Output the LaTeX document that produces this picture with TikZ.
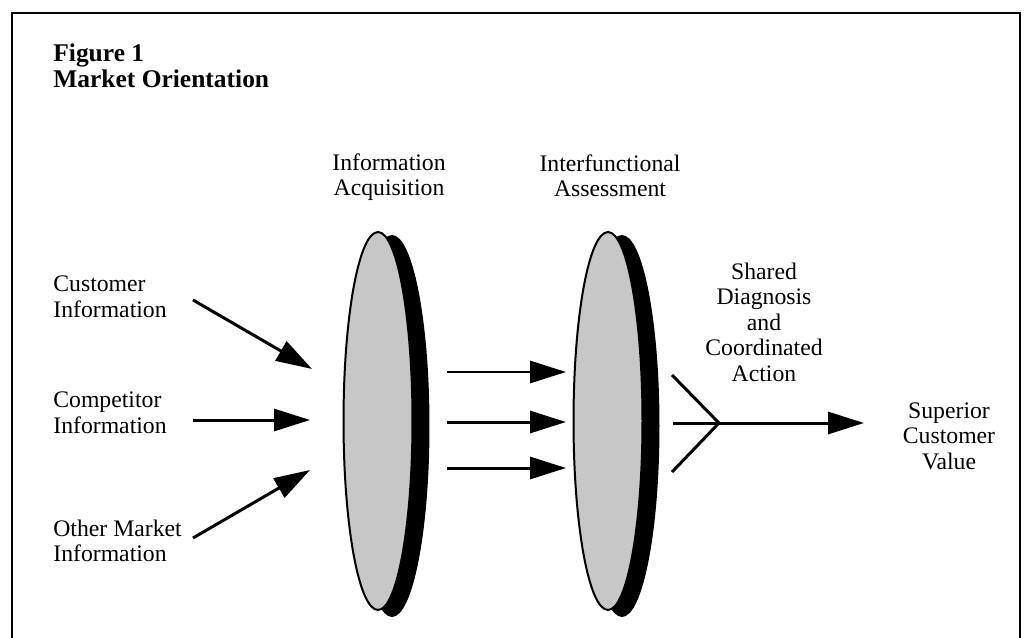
\documentclass[tikz,border=0pt]{standalone}
\usepackage{fontspec}
\setmainfont{Liberation Serif}
\usetikzlibrary{arrows.meta,positioning,calc,shapes.geometric}

\begin{document}
\begin{tikzpicture}[x=0.02cm,y=-0.02cm,
  lbl/.style={font=\fontsize{13.5}{14.5}\selectfont,inner sep=0pt,align=center},
  ttl/.style={font=\fontsize{14.5}{15}\selectfont\bfseries,inner sep=0pt,align=left,anchor=west},
  lens/.style={ellipse,draw=black,line width=0.04cm,fill=black!22,inner sep=0pt,
    minimum width=1.38cm,minimum height=7.56cm},
  lensback/.style={ellipse,fill=black,inner sep=0pt,minimum width=1.5cm,minimum height=7.64cm},
  wire/.style={line width=0.06cm},
  arr/.style={wire,-{Triangle[length=0.72cm,width=0.44cm]}}]
  \useasboundingbox (0,0) rectangle (1024,638);
  \draw[line width=0.05cm] (12,640) -- (12,13) -- (1020,13) -- (1020,640);
  \node[ttl] (title) at (53,66) {Figure 1\\Market Orientation};
  % the two lenses
  \node[lensback] (b1) at (392,426) {};
  \node[lens] (e1) at (378,421) {};
  \node[lensback] (b2) at (622,426) {};
  \node[lens] (e2) at (608,421) {};
  \node[lbl] (acq) at (389,177) {Information\\Acquisition};
  \node[lbl] (ifa) at (610,176) {Interfunctional\\Assessment};
  % inputs
  \node[lbl,align=left,anchor=west] (cus) at (53,297) {Customer\\Information};
  \node[lbl,align=left,anchor=west] (cmp) at (53,413) {Competitor\\Information};
  \node[lbl,align=left,anchor=west] (oth) at (53,541) {Other Market\\Information};
  \coordinate (c1) at (193,300);
  \coordinate (c2) at (193,420);
  \coordinate (c3) at (193,538);
  \coordinate (d1) at ($(e1) + (-66,-52)$);
  \coordinate (d2) at ($(e1) + (-68,-1)$);
  \coordinate (d3) at ($(e1) + (-68,49)$);
  \foreach \i in {1,2,3} \draw[arr] (c\i) -- (d\i);
  % between the lenses
  \foreach \dy [count=\i] in {-49,1,47} {
    \coordinate (m\i) at ($(e1) + (69,\dy)$);
    \coordinate (n\i) at ($(e2) + (-42,\dy)$);
    \draw[arr] (m\i) -- (n\i);
  }
  % output
  \node[lbl] (sha) at (764,322) {Shared\\Diagnosis\\and\\Coordinated\\Action};
  \node[lbl] (sup) at (949,436) {Superior\\Customer\\Value};
  \coordinate (fk) at (719,423);
  \coordinate (fa) at (672,375);
  \coordinate (fb) at (673,423);
  \coordinate (fc) at (672,472);
  \coordinate (tip) at (864,423);
  \draw[wire] (fa) -- (fk) -- (fc);
  \draw[wire] (fb) -- (fk);
  \draw[arr] (fk) -- (tip);
\end{tikzpicture}
\end{document}
